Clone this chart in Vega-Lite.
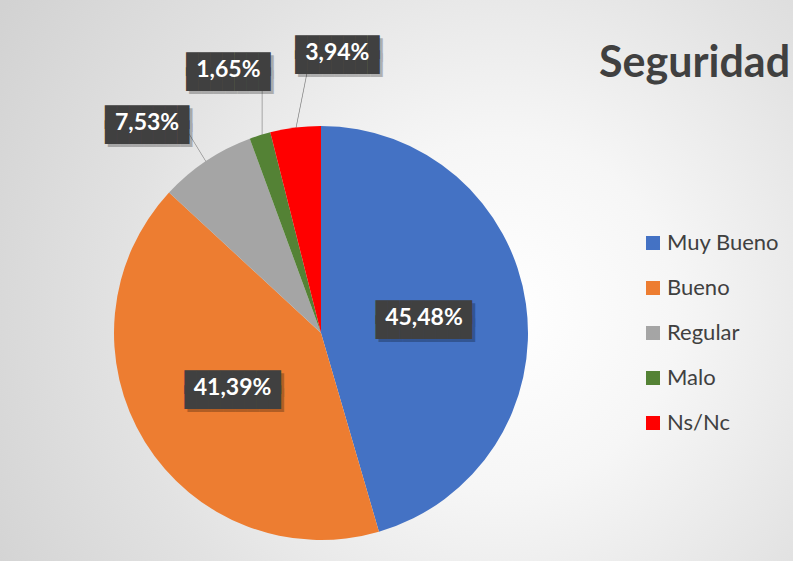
{
  "$schema": "https://vega.github.io/schema/vega-lite/v6.json",
  "width": 944,
  "height": 666,
  "autosize": {"type": "none"},
  "padding": {"left": -151, "top": 0, "right": 0, "bottom": -105},
  "background": "#d4d4d4",
  "config": {"view": {"stroke": null}},
  "title": {
    "text": "Seguridad",
    "anchor": "start",
    "frame": "group",
    "orient": "top",
    "offset": 0,
    "dx": 750,
    "dy": 120,
    "baseline": "alphabetic",
    "font": "Lato",
    "fontSize": 43,
    "fontWeight": "bold",
    "color": "#404040"
  },
  "data": {
    "values": [
      {"categoria": "Muy Bueno", "pct": 45.48, "etiqueta": "45,48%", "orden": 1},
      {"categoria": "Bueno", "pct": 41.39, "etiqueta": "41,39%", "orden": 2},
      {"categoria": "Regular", "pct": 7.53, "etiqueta": "7,53%", "orden": 3},
      {"categoria": "Malo", "pct": 1.65, "etiqueta": "1,65%", "orden": 4},
      {"categoria": "Ns/Nc", "pct": 3.94, "etiqueta": "3,94%", "orden": 5}
    ]
  },
  "layer": [
    {
      "data": {"values": [{}]},
      "mark": {
        "type": "rect",
        "color": {
          "gradient": "radial",
          "x1": 0.69, "y1": 0.48, "r1": 0,
          "x2": 0.69, "y2": 0.48, "r2": 0.62,
          "stops": [
            {"offset": 0, "color": "#ffffff"},
            {"offset": 0.3, "color": "#f6f6f6"},
            {"offset": 0.65, "color": "#e2e2e2"},
            {"offset": 1, "color": "#d2d2d2"}
          ]
        }
      }
    },
    {
      "encoding": {
        "theta": {"field": "pct", "type": "quantitative", "stack": true},
        "order": {"field": "orden", "type": "quantitative"},
        "detail": {"field": "categoria", "type": "nominal"}
      },
      "layer": [
        {
          "mark": {"type": "text", "radius": 222, "angle": 328.5, "font": "Lato", "fontWeight": 100, "fontSize": 56, "color": "#7f7f7f"},
          "encoding": {"text": {"condition": {"test": "datum.categoria === 'Regular'", "value": "|"}, "value": ""}}
        },
        {
          "mark": {"type": "text", "radius": 228, "thetaOffset": 0.038, "angle": 0, "font": "Lato", "fontWeight": 100, "fontSize": 60, "color": "#7f7f7f"},
          "encoding": {"text": {"condition": {"test": "datum.categoria === 'Malo'", "value": "|"}, "value": ""}}
        },
        {
          "mark": {"type": "text", "radius": 232, "thetaOffset": 0.038, "angle": 11.3, "font": "Lato", "fontWeight": 100, "fontSize": 70, "color": "#7f7f7f"},
          "encoding": {"text": {"condition": {"test": "datum.categoria === 'Ns/Nc'", "value": "|"}, "value": ""}}
        },
        {
          "mark": {"type": "arc", "outerRadius": 207, "stroke": null},
          "encoding": {
            "color": {
              "field": "categoria",
              "type": "nominal",
              "scale": {
                "domain": ["Muy Bueno", "Bueno", "Regular", "Malo", "Ns/Nc"],
                "range": ["#4472C4", "#ED7D31", "#A5A5A5", "#548235", "#FF0000"]
              },
              "legend": {
                "orient": "none",
                "legendX": 793,
                "legendY": 232,
                "title": null,
                "padding": 0,
                "symbolType": "square",
                "symbolSize": 196,
                "symbolStrokeWidth": 0,
                "labelFont": "Lato",
                "labelFontSize": 22,
                "labelColor": "#404040",
                "labelOffset": 3,
                "rowPadding": 23
              }
            }
          }
        },
        {
          "mark": {"type": "text", "radius": 104, "font": "DejaVu Sans Mono", "fontSize": 20, "lineHeight": 15, "color": "#000000", "opacity": 0.25, "dx": 3, "dy": -2},
          "encoding": {"text": {"condition": {"test": "datum.pct > 20", "value": ["████████", "████████"]}, "value": ""}}
        },
        {
          "mark": {"type": "text", "radius": 104, "font": "DejaVu Sans Mono", "fontSize": 20, "lineHeight": 15, "color": "#404040", "dy": -5},
          "encoding": {"text": {"condition": {"test": "datum.pct > 20", "value": ["████████", "████████"]}, "value": ""}}
        },
        {
          "mark": {"type": "text", "radius": 104, "font": "Lato", "fontWeight": "bold", "fontSize": 23, "color": "#ffffff"},
          "encoding": {"text": {"condition": {"test": "datum.pct > 20", "field": "etiqueta"}, "value": ""}}
        },
        {
          "mark": {"type": "text", "radius": 273, "thetaOffset": -0.103, "font": "DejaVu Sans Mono", "fontSize": 20, "lineHeight": 15, "color": "#000000", "opacity": 0.25, "dx": 3, "dy": -2},
          "encoding": {"text": {"condition": {"test": "datum.categoria === 'Regular'", "value": ["███████", "███████"]}, "value": ""}}
        },
        {
          "mark": {"type": "text", "radius": 273, "thetaOffset": -0.103, "font": "DejaVu Sans Mono", "fontSize": 20, "lineHeight": 15, "color": "#404040", "dy": -5},
          "encoding": {"text": {"condition": {"test": "datum.categoria === 'Regular'", "value": ["███████", "███████"]}, "value": ""}}
        },
        {
          "mark": {"type": "text", "radius": 273, "thetaOffset": -0.103, "font": "Lato", "fontWeight": "bold", "fontSize": 23, "color": "#ffffff"},
          "encoding": {"text": {"condition": {"test": "datum.categoria === 'Regular'", "field": "etiqueta"}, "value": ""}}
        },
        {
          "mark": {"type": "text", "radius": 279, "thetaOffset": -0.039, "font": "DejaVu Sans Mono", "fontSize": 20, "lineHeight": 15, "color": "#000000", "opacity": 0.25, "dx": 3, "dy": -2},
          "encoding": {"text": {"condition": {"test": "datum.categoria === 'Malo'", "value": ["███████", "███████"]}, "value": ""}}
        },
        {
          "mark": {"type": "text", "radius": 279, "thetaOffset": -0.039, "font": "DejaVu Sans Mono", "fontSize": 20, "lineHeight": 15, "color": "#404040", "dy": -5},
          "encoding": {"text": {"condition": {"test": "datum.categoria === 'Malo'", "value": ["███████", "███████"]}, "value": ""}}
        },
        {
          "mark": {"type": "text", "radius": 279, "thetaOffset": -0.039, "font": "Lato", "fontWeight": "bold", "fontSize": 23, "color": "#ffffff"},
          "encoding": {"text": {"condition": {"test": "datum.categoria === 'Malo'", "field": "etiqueta"}, "value": ""}}
        },
        {
          "mark": {"type": "text", "radius": 280, "thetaOffset": 0.182, "font": "DejaVu Sans Mono", "fontSize": 20, "lineHeight": 15, "color": "#000000", "opacity": 0.25, "dx": 3, "dy": -2},
          "encoding": {"text": {"condition": {"test": "datum.categoria === 'Ns/Nc'", "value": ["███████", "███████"]}, "value": ""}}
        },
        {
          "mark": {"type": "text", "radius": 280, "thetaOffset": 0.182, "font": "DejaVu Sans Mono", "fontSize": 20, "lineHeight": 15, "color": "#404040", "dy": -5},
          "encoding": {"text": {"condition": {"test": "datum.categoria === 'Ns/Nc'", "value": ["███████", "███████"]}, "value": ""}}
        },
        {
          "mark": {"type": "text", "radius": 280, "thetaOffset": 0.182, "font": "Lato", "fontWeight": "bold", "fontSize": 23, "color": "#ffffff"},
          "encoding": {"text": {"condition": {"test": "datum.categoria === 'Ns/Nc'", "field": "etiqueta"}, "value": ""}}
        }
      ]
    }
  ]
}
